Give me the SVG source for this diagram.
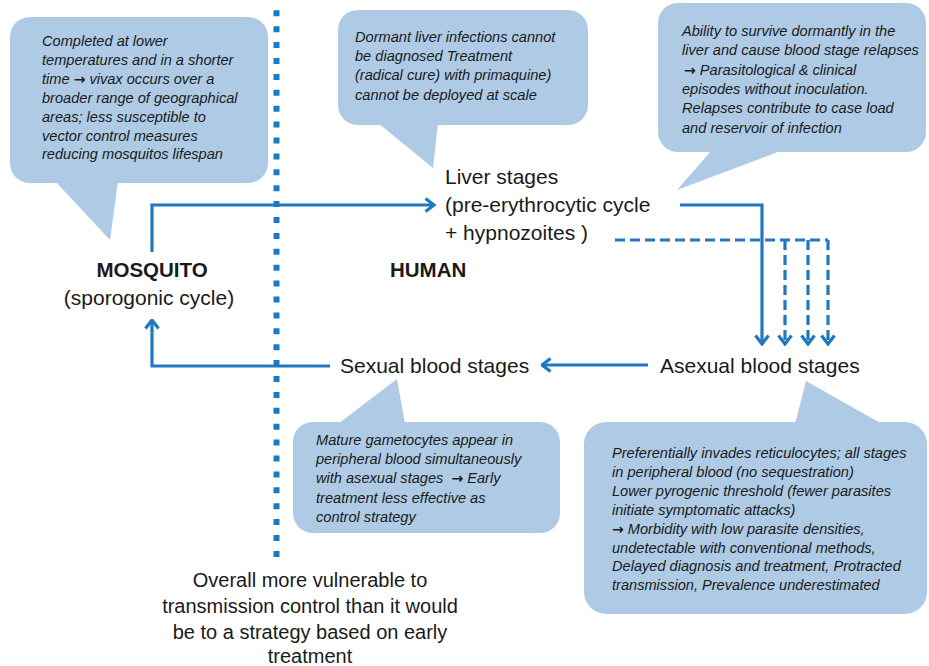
<svg xmlns="http://www.w3.org/2000/svg" width="929" height="666" viewBox="0 0 929 666">
  <style>
    .bubble { fill: #aecae5; }
    .ct { font-family: "Liberation Sans", Arial, sans-serif; font-style: italic; font-size: 14.6px; fill: #1a1a1a; }
    .ar { font-family: "DejaVu Sans", sans-serif; font-style: normal; font-weight: bold; font-size: 14px; }
    .lbl { font-family: "Liberation Sans", Arial, sans-serif; font-size: 21px; fill: #1a1a1a; }
    .bold { font-weight: bold; font-size: 20.5px; }
    .bt { font-family: "Liberation Sans", Arial, sans-serif; font-size: 20px; fill: #1a1a1a; text-anchor: middle; }
    .conn { fill: none; stroke: #1f78c0; stroke-width: 3.2; }
    .dash { stroke-dasharray: 10 5; }
  </style>
  <defs>
    <marker id="arr" viewBox="0 0 12 16" refX="10.5" refY="8" markerWidth="12" markerHeight="16" markerUnits="userSpaceOnUse" orient="auto">
      <path d="M2,1.5 L10.5,8 L2,14.5" fill="none" stroke="#1f78c0" stroke-width="3.2"/>
    </marker>
  </defs>
  <rect width="929" height="666" fill="#ffffff"/>

  <!-- divider -->
  <line x1="276.5" y1="10.3" x2="276.5" y2="557" stroke="#1f78c0" stroke-width="6" stroke-dasharray="6 9.9"/>

  <!-- callouts -->
  <g id="callout-mosquito">
    <rect class="bubble" x="10" y="17" width="258" height="166" rx="20"/>
    <polygon class="bubble" points="55,181 110,240 118,181"/>
    <text class="ct" x="42" y="46">Completed at lower</text>
    <text class="ct" x="42" y="64.9">temperatures and in a shorter</text>
    <text class="ct" x="42" y="83.8">time <tspan class="ar">→</tspan> vivax occurs over a</text>
    <text class="ct" x="42" y="102.7">broader range of geographical</text>
    <text class="ct" x="42" y="121.6">areas; less susceptible to</text>
    <text class="ct" x="42" y="140.5">vector control measures</text>
    <text class="ct" x="42" y="159.4">reducing mosquitos lifespan</text>
  </g>

  <g id="callout-liver">
    <rect class="bubble" x="338" y="10" width="250" height="115" rx="20"/>
    <polygon class="bubble" points="378,123 433,168 438,123"/>
    <text class="ct" x="355" y="42">Dormant liver infections cannot</text>
    <text class="ct" x="355" y="61.2">be diagnosed Treatment</text>
    <text class="ct" x="355" y="80.4">(radical cure) with primaquine)</text>
    <text class="ct" x="355" y="99.6">cannot be deployed at scale</text>
  </g>

  <g id="callout-relapse">
    <rect class="bubble" x="658" y="3" width="268" height="149" rx="20"/>
    <polygon class="bubble" points="712,150 677,190 783,150"/>
    <text class="ct" x="682" y="36">Ability to survive dormantly in the</text>
    <text class="ct" x="682" y="55.3">liver and cause blood stage relapses</text>
    <text class="ct" x="684" y="74.6"><tspan class="ar">→</tspan> Parasitological &amp; clinical</text>
    <text class="ct" x="682" y="93.9">episodes without inoculation.</text>
    <text class="ct" x="682" y="113.2">Relapses contribute to case load</text>
    <text class="ct" x="682" y="132.5">and reservoir of infection</text>
  </g>

  <g id="callout-gametocytes">
    <rect class="bubble" x="293" y="422" width="267" height="111" rx="20"/>
    <polygon class="bubble" points="338,424 397,379 405,424"/>
    <text class="ct" x="316" y="445">Mature gametocytes appear in</text>
    <text class="ct" x="316" y="464.2">peripheral blood simultaneously</text>
    <text class="ct" x="316" y="483.4" xml:space="preserve">with asexual stages  <tspan class="ar">→</tspan> Early</text>
    <text class="ct" x="316" y="502.6">treatment less effective as</text>
    <text class="ct" x="316" y="521.8">control strategy</text>
  </g>

  <g id="callout-asexual">
    <rect class="bubble" x="584" y="422" width="343" height="192" rx="22"/>
    <polygon class="bubble" points="795,424 806,381 882,424"/>
    <text class="ct" x="612" y="458">Preferentially invades reticulocytes; all stages</text>
    <text class="ct" x="612" y="476.9">in peripheral blood (no sequestration)</text>
    <text class="ct" x="612" y="495.8">Lower pyrogenic threshold (fewer parasites</text>
    <text class="ct" x="612" y="514.7">initiate symptomatic attacks)</text>
    <text class="ct" x="612" y="533.6"><tspan class="ar">→</tspan> Morbidity with low parasite densities,</text>
    <text class="ct" x="612" y="552.5">undetectable with conventional methods,</text>
    <text class="ct" x="612" y="571.4">Delayed diagnosis and treatment, Protracted</text>
    <text class="ct" x="612" y="590.3">transmission, Prevalence underestimated</text>
  </g>

  <!-- connectors -->
  <g id="connectors">
    <path class="conn" d="M152,252 V205 H434" marker-end="url(#arr)"/>
    <path class="conn" d="M680,205 H762 V344" marker-end="url(#arr)"/>
    <path class="conn dash" d="M615,240 H828"/>
    <path class="conn dash" d="M785,240 V344" marker-end="url(#arr)"/>
    <path class="conn dash" d="M808,240 V344" marker-end="url(#arr)"/>
    <path class="conn dash" d="M828,240 V344" marker-end="url(#arr)"/>
    <path class="conn" d="M648,365 H542" marker-end="url(#arr)"/>
    <path class="conn" d="M330,366 H152 V320" marker-end="url(#arr)"/>
  </g>

  <!-- nodes -->
  <g id="node-mosquito">
    <text class="lbl bold" x="152" y="277" text-anchor="middle">MOSQUITO</text>
    <text class="lbl" x="149" y="305" text-anchor="middle">(sporogonic cycle)</text>
  </g>
  <g id="node-human">
    <text class="lbl bold" x="390" y="277">HUMAN</text>
  </g>
  <g id="node-liver">
    <text class="lbl" x="445" y="184">Liver stages</text>
    <text class="lbl" x="445" y="212">(pre-erythrocytic cycle</text>
    <text class="lbl" x="445" y="240">+ hypnozoites )</text>
  </g>
  <g id="node-asexual">
    <text class="lbl" x="660" y="373">Asexual blood stages</text>
  </g>
  <g id="node-sexual">
    <text class="lbl" x="340" y="373">Sexual blood stages</text>
  </g>
  <g id="note-overall">
    <text class="bt" x="310" y="587">Overall more vulnerable to</text>
    <text class="bt" x="310" y="613">transmission control than it would</text>
    <text class="bt" x="310" y="638.5">be to a strategy based on early</text>
    <text class="bt" x="310" y="663">treatment</text>
  </g>
</svg>
